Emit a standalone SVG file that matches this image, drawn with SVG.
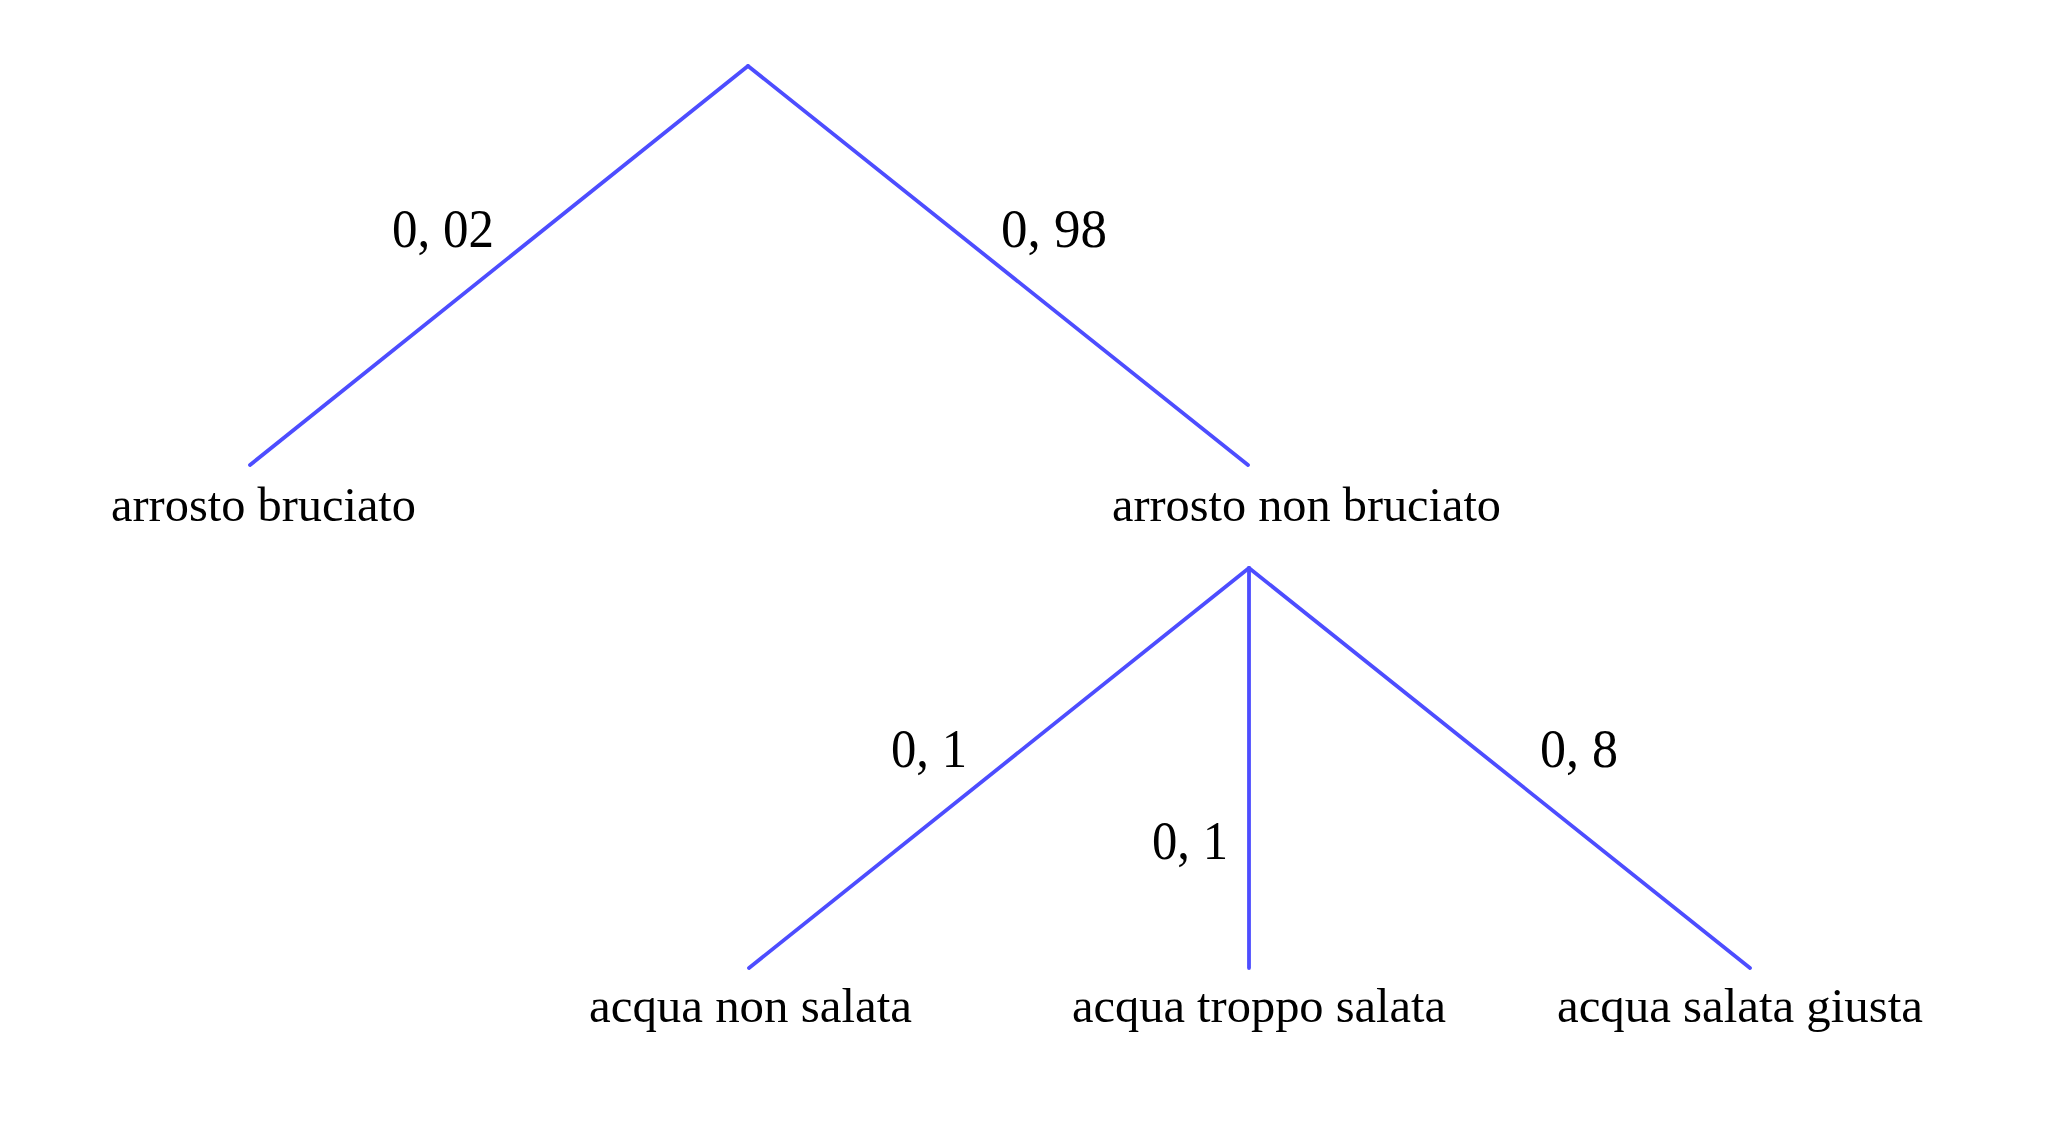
<svg xmlns="http://www.w3.org/2000/svg" width="2048" height="1145" viewBox="0 0 2048 1145">
<style>
.edge{stroke:#4d4dff;stroke-width:3.8;stroke-linecap:round;fill:none}
.lbl{font-family:"Liberation Serif","Times New Roman",serif;font-size:48px;fill:#000}
.prob{font-family:"Liberation Serif","Times New Roman",serif;font-size:54px;fill:#000}
</style>
<rect width="2048" height="1145" fill="#fff"/>
<g id="connectors">
<line class="edge" x1="748" y1="66" x2="250" y2="465"/>
<line class="edge" x1="748" y1="66" x2="1248" y2="465"/>
<line class="edge" x1="1249" y1="568" x2="749" y2="968"/>
<line class="edge" x1="1249" y1="568" x2="1249" y2="968"/>
<line class="edge" x1="1249" y1="568" x2="1750" y2="968"/>
<text class="prob" x="392" y="247" textLength="102" lengthAdjust="spacingAndGlyphs">0, 02</text>
<text class="prob" x="1001" y="247" textLength="106" lengthAdjust="spacingAndGlyphs">0, 98</text>
<text class="prob" x="891" y="767" textLength="76" lengthAdjust="spacingAndGlyphs">0, 1</text>
<text class="prob" x="1152" y="859" textLength="76" lengthAdjust="spacingAndGlyphs">0, 1</text>
<text class="prob" x="1540" y="767" textLength="78" lengthAdjust="spacingAndGlyphs">0, 8</text>
</g>
<g id="root"></g>
<g id="n-arrosto-bruciato"><text class="lbl" x="111" y="521" textLength="305" lengthAdjust="spacingAndGlyphs">arrosto bruciato</text></g>
<g id="n-arrosto-non-bruciato"><text class="lbl" x="1112" y="521" textLength="389" lengthAdjust="spacingAndGlyphs">arrosto non bruciato</text></g>
<g id="n-acqua-non-salata"><text class="lbl" x="589" y="1022" textLength="323" lengthAdjust="spacingAndGlyphs">acqua non salata</text></g>
<g id="n-acqua-troppo-salata"><text class="lbl" x="1072" y="1022" textLength="374" lengthAdjust="spacingAndGlyphs">acqua troppo salata</text></g>
<g id="n-acqua-salata-giusta"><text class="lbl" x="1557" y="1022" textLength="366" lengthAdjust="spacingAndGlyphs">acqua salata giusta</text></g>
</svg>
